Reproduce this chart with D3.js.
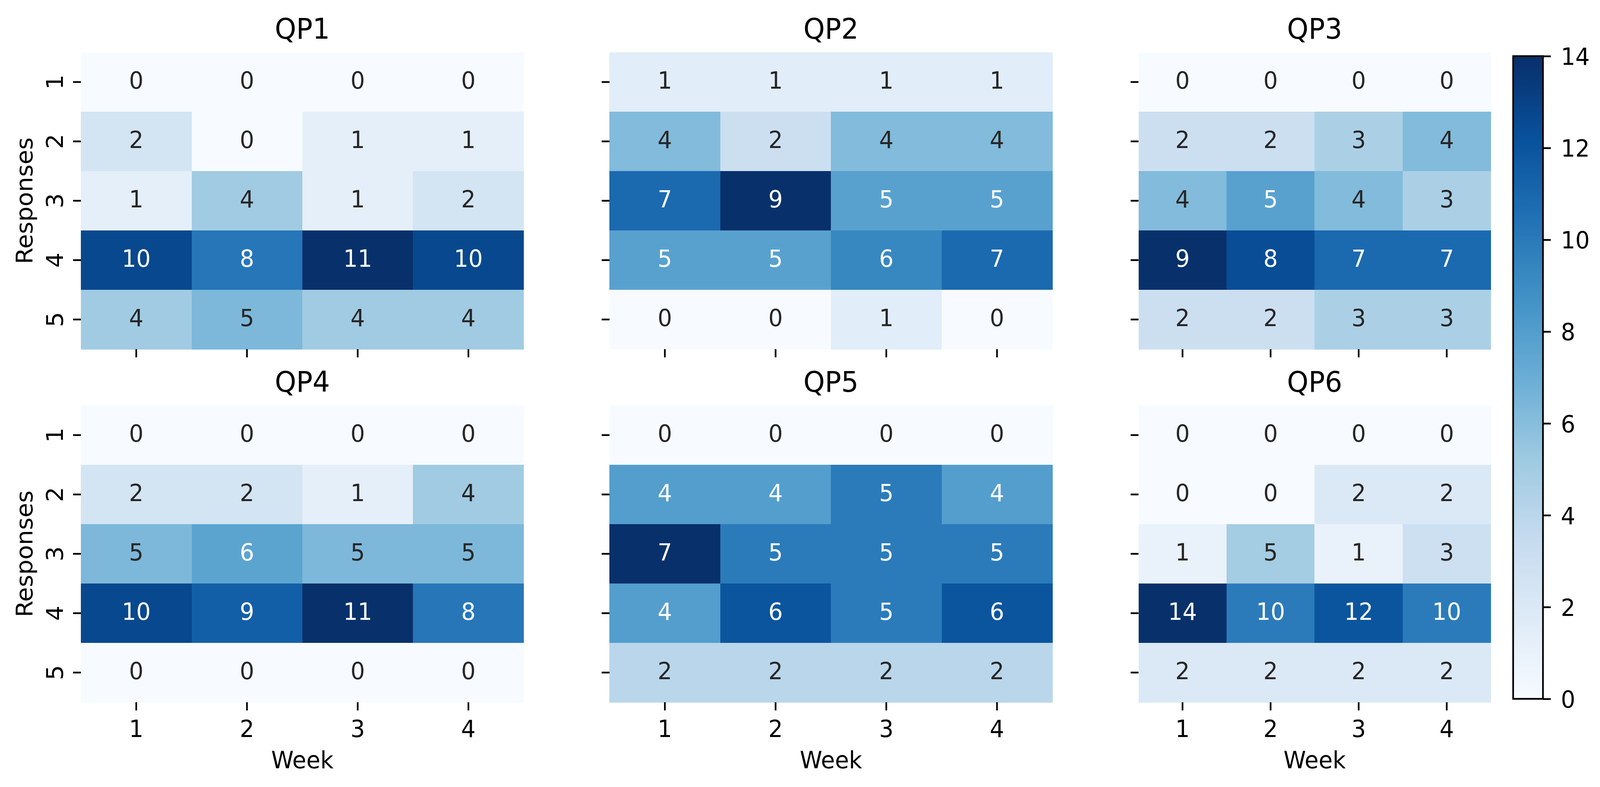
<!DOCTYPE html>
<html><head><meta charset="utf-8">
<script src="https://cdn.jsdelivr.net/npm/d3@7"></script>
<style>
html,body{margin:0;padding:0;background:#fff;width:100%;height:100%;overflow:hidden}
svg{display:block;width:100vw;height:100vh}
text{font-family:"DejaVu Sans",sans-serif}
</style>
</head><body>
<svg id="chart" viewBox="0 0 4292 2015" preserveAspectRatio="none"></svg>
<script>
// ---------- data ----------
const weeks = [1, 2, 3, 4];
const responses = [1, 2, 3, 4, 5];
const panelTitles = ["QP1", "QP2", "QP3", "QP4", "QP5", "QP6"];
const qp1 = [[0,0,0,0],[2,0,1,1],[1,4,1,2],[10,8,11,10],[4,5,4,4]];
const qp2 = [[1,1,1,1],[4,2,4,4],[7,9,5,5],[5,5,6,7],[0,0,1,0]];
const qp3 = [[0,0,0,0],[2,2,3,4],[4,5,4,3],[9,8,7,7],[2,2,3,3]];
const qp4 = [[0,0,0,0],[2,2,1,4],[5,6,5,5],[10,9,11,8],[0,0,0,0]];
const qp5 = [[0,0,0,0],[4,4,5,4],[7,5,5,5],[4,6,5,6],[2,2,2,2]];
const qp6 = [[0,0,0,0],[0,0,2,2],[1,5,1,3],[14,10,12,10],[2,2,2,2]];
const panelData = [qp1, qp2, qp3, qp4, qp5, qp6];
const colorbarTicks = [0, 2, 4, 6, 8, 10, 12, 14];
const xLabel = "Week";
const yLabel = "Responses";

// ---------- colormap (matplotlib Blues) ----------
const bluesStops = ["#f7fbff","#deebf7","#c6dbef","#9ecae1","#6baed6","#4292c6","#2171b5","#08519c","#08306b"];
const bluesInterp = d3.scaleLinear()
  .domain(d3.range(bluesStops.length).map(i => i / (bluesStops.length - 1)))
  .range(bluesStops)
  .interpolate(d3.interpolateRgb)
  .clamp(true);
function blues(t) {
  const idx = Math.max(0, Math.min(255, Math.floor(t * 256)));
  return bluesInterp(idx / 255);
}
function relLum(c) {
  const rgb = d3.rgb(c);
  const f = v => { v /= 255; return v <= 0.03928 ? v / 12.92 : Math.pow((v + 0.055) / 1.055, 2.4); };
  return 0.2126 * f(rgb.r) + 0.7152 * f(rgb.g) + 0.0722 * f(rgb.b);
}

// ---------- layout ----------
const colX = [[217, 1405], [1635, 2823], [3054, 3999]];
const rowY = [[134, 894], [1038, 1798]];
const FS = 61, TFS = 73, TICK = 21, TW = 4.5;

const svg = d3.select("#chart");
svg.append("rect").attr("width", 4292).attr("height", 2015).attr("fill", "#fff");

panelData.forEach((data, i) => {
  const col = i % 3, row = Math.floor(i / 3);
  const [x0, x1] = colX[col], [y0, y1] = rowY[row];
  const x = d3.scaleBand().domain(weeks).range([x0, x1]);
  const y = d3.scaleBand().domain(responses).range([y0, y1]);
  const flat = data.flat();
  const norm = d3.scaleLinear().domain([d3.min(flat), d3.max(flat)]).range([0, 1]);
  const g = svg.append("g");

  const cells = [];
  data.forEach((r, ri) => r.forEach((v, ci) => cells.push({ r: responses[ri], c: weeks[ci], v })));

  g.selectAll("rect.cell").data(cells).join("rect")
    .attr("class", "cell")
    .attr("x", d => x(d.c)).attr("y", d => y(d.r))
    .attr("width", x.bandwidth() + 0.5).attr("height", y.bandwidth() + 0.5)
    .attr("shape-rendering", "crispEdges")
    .attr("fill", d => blues(norm(d.v)));

  g.selectAll("text.annot").data(cells).join("text")
    .attr("class", "annot")
    .attr("x", d => x(d.c) + x.bandwidth() / 2)
    .attr("y", d => y(d.r) + y.bandwidth() / 2 + 17)
    .attr("text-anchor", "middle")
    .attr("font-size", FS)
    .attr("fill", d => relLum(blues(norm(d.v))) > 0.408 ? "#262626" : "#ffffff")
    .text(d => d.v);

  // title
  g.append("text")
    .attr("x", (x0 + x1) / 2).attr("y", y0 - 35)
    .attr("text-anchor", "middle").attr("font-size", TFS).attr("fill", "#000")
    .text(panelTitles[i]);

  // x axis
  const xa = g.append("g").attr("transform", `translate(0,${y1})`)
    .call(d3.axisBottom(x).tickSize(TICK).tickFormat(row === 1 ? d => d : () => ""));
  xa.select(".domain").remove();
  xa.selectAll(".tick line").attr("stroke", "#000").attr("stroke-width", TW);
  xa.selectAll(".tick text").attr("y", 89).attr("dy", null)
    .attr("font-size", FS).attr("fill", "#000").attr("font-family", "DejaVu Sans");

  // y axis
  const ya = g.append("g").attr("transform", `translate(${x0},0)`)
    .call(d3.axisLeft(y).tickSize(TICK).tickFormat(col === 0 ? d => d : () => ""));
  ya.select(".domain").remove();
  ya.selectAll(".tick line").attr("stroke", "#000").attr("stroke-width", TW);
  ya.selectAll(".tick text").attr("x", null).attr("dy", null)
    .attr("transform", "translate(-48,0) rotate(-90)")
    .attr("text-anchor", "middle")
    .attr("font-size", FS).attr("fill", "#000").attr("font-family", "DejaVu Sans");

  if (row === 1) {
    g.append("text").attr("x", (x0 + x1) / 2).attr("y", 1967)
      .attr("text-anchor", "middle").attr("font-size", FS).attr("fill", "#000")
      .text(xLabel);
  }
  if (col === 0) {
    g.append("text").attr("transform", `translate(87,${(y0 + y1) / 2}) rotate(-90)`)
      .attr("text-anchor", "middle").attr("font-size", FS).attr("fill", "#000")
      .text(yLabel);
  }
});

// ---------- colorbar ----------
const cbX0 = 4059, cbX1 = 4139, cbTop = 143.7, cbBot = 1789.3;
const cMax = d3.max(qp6.flat()), cMin = d3.min(qp6.flat());
const cScale = d3.scaleLinear().domain([cMin, cMax]).range([cbBot, cbTop]);
const defs = svg.append("defs");
const grad = defs.append("linearGradient").attr("id", "cbgrad")
  .attr("x1", 0).attr("y1", 1).attr("x2", 0).attr("y2", 0);
d3.range(0, 257).forEach(k => {
  const t = k / 256;
  grad.append("stop").attr("offset", t).attr("stop-color", blues(Math.min(t, 0.9999)));
});
svg.append("rect").attr("x", cbX0).attr("y", cbTop).attr("width", cbX1 - cbX0).attr("height", cbBot - cbTop)
  .attr("fill", "url(#cbgrad)");
svg.append("rect").attr("x", cbX0).attr("y", cbTop).attr("width", cbX1 - cbX0).attr("height", cbBot - cbTop)
  .attr("fill", "none").attr("stroke", "#000").attr("stroke-width", TW);
const ca = svg.append("g").attr("transform", `translate(${cbX1},0)`)
  .call(d3.axisRight(cScale).tickValues(colorbarTicks).tickSize(TICK).tickPadding(27));
ca.select(".domain").remove();
ca.selectAll(".tick line").attr("stroke", "#000").attr("stroke-width", TW);
ca.selectAll(".tick text").attr("dy", "0.36em")
  .attr("font-size", FS).attr("fill", "#000").attr("font-family", "DejaVu Sans");
</script>
</body></html>
